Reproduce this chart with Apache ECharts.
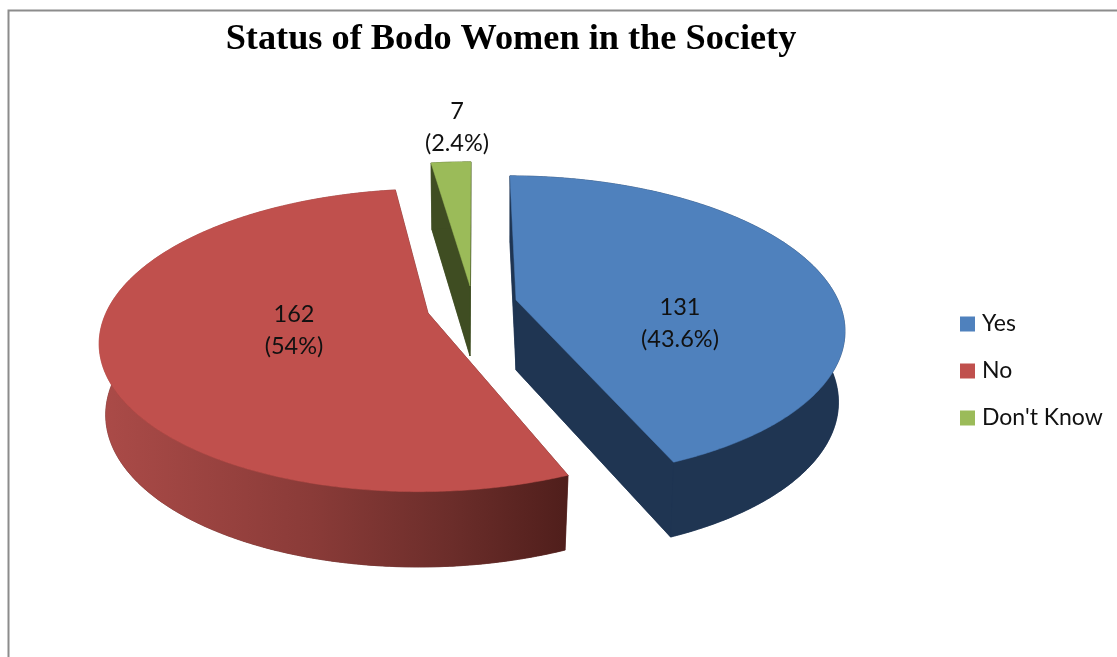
<!DOCTYPE html>
<html>
<head>
<meta charset="utf-8">
<style>html,body{margin:0;padding:0;background:#fff}#c{width:1117px;height:657px}</style>
<script src="https://cdn.jsdelivr.net/npm/echarts@6/dist/echarts.min.js"></script>
</head>
<body>
<div id="c"></div>
<script>
const categories = ["Yes", "No", "Don't Know"];
const counts = [131, 162, 7];
const percentLabels = ["43.6%", "54%", "2.4%"];
const topColors = ["#4f81bd", "#c0504d", "#9bbb59"];
const wallColors = ["#1f3552", "#5a2321", "#3f4d22"];

// View geometry of the tilted, exploded pie
const view = {
  vanishX: 470, R: 322, Ry: 146.5, k: 0.18, depth: 70, bottomSx: 0.98, bottomSy: 1.03, rotation: 0.2,
  apex: [[516, 300], [428, 313], [470, 286]],
  labelAt: [[680, 323], [294, 330], [457, 127]]
};
const total = counts.reduce((a, b) => a + b, 0);

function project(apex, deg, rad, bottom) {
  const a = deg * Math.PI / 180;
  const u = Math.sin(a) * rad, v = -Math.cos(a) * rad;
  const w = 1 - view.k * v;
  const sx = bottom ? view.bottomSx : 1, sy = bottom ? view.bottomSy : 1;
  return [
    view.vanishX + (apex[0] - view.vanishX + sx * view.R * u) / w,
    apex[1] + (bottom ? view.depth : 0) + sy * view.Ry * v / w
  ];
}
function arc(apex, from, to, bottom) {
  const pts = [], n = Math.max(2, Math.ceil((to - from) * 2));
  for (let i = 0; i <= n; i++) pts.push(project(apex, from + (to - from) * i / n, 1, bottom));
  return pts;
}
const poly = (points, fill, stroke) => ({
  type: 'polygon', shape: { points },
  style: { fill, stroke: stroke || fill, lineWidth: 0.5 }, silent: true
});

function renderSlice(idx) {
  return function (params, api) {
    const value = api.value(0);
    let start = view.rotation;
    for (let i = 0; i < idx; i++) start += counts[i] / total * 360;
    const end = start + value / total * 360;
    const ap = view.apex[idx];
    const apB = [ap[0], ap[1] + view.depth];
    const top = arc(ap, start, end, false), bot = arc(ap, start, end, true);
    const outerFill = idx === 1
      ? new echarts.graphic.LinearGradient(100, 0, 570, 0, [
          { offset: 0, color: '#ab4b48' }, { offset: 0.45, color: '#8a3b38' },
          { offset: 0.75, color: '#6b2d2a' }, { offset: 1, color: '#4f1e1b' }], true)
      : wallColors[idx];
    const lbl = view.labelAt[idx];
    const children = [
      poly([apB].concat(bot), wallColors[idx]),
      poly([top[0], ap, apB, bot[0]], wallColors[idx]),
      poly([top[top.length - 1], ap, apB, bot[bot.length - 1]], wallColors[idx]),
      poly(top.concat(bot.slice().reverse()), outerFill),
      poly([ap].concat(top), topColors[idx]),
      {
        type: 'text', silent: true, z2: 10,
        style: {
          x: lbl[0], y: lbl[1], text: value + '\n(' + percentLabels[idx] + ')',
          align: 'center', verticalAlign: 'middle',
          font: '23.5px Lato', lineHeight: 32, fill: '#111'
        }
      }
    ];
    return { type: 'group', children };
  };
}

const chart = echarts.init(document.getElementById('c'), null, { renderer: 'canvas' });
chart.setOption({
  animation: false,
  backgroundColor: '#fff',
  title: {
    text: 'Status of Bodo Women in the Society', left: 506, top: 17, textAlign: 'center',
    textStyle: { fontFamily: 'Liberation Serif', fontWeight: 'bold', fontSize: 36.3, color: '#000' }
  },
  legend: {
    orient: 'vertical', left: 955, top: 306, itemWidth: 15, itemHeight: 15, itemGap: 21, icon: 'rect',
    data: categories, selectedMode: false,
    textStyle: { fontFamily: 'Lato', fontSize: 23, color: '#111', padding: [0, 0, 0, 2], lineHeight: 26 },
    itemStyle: { borderWidth: 0 }
  },
  graphic: [{
    type: 'polyline', silent: true,
    shape: { points: [[8.5, 657], [8.5, 10.5], [1117, 10.5]] },
    style: { stroke: '#8c8c8c', lineWidth: 2, fill: null }
  }],
  series: categories.map((name, i) => ({
    type: 'custom', name, coordinateSystem: 'none', silent: true,
    itemStyle: { color: topColors[i] },
    data: [[counts[i]]],
    renderItem: renderSlice(i)
  }))
});
</script>
</body>
</html>
